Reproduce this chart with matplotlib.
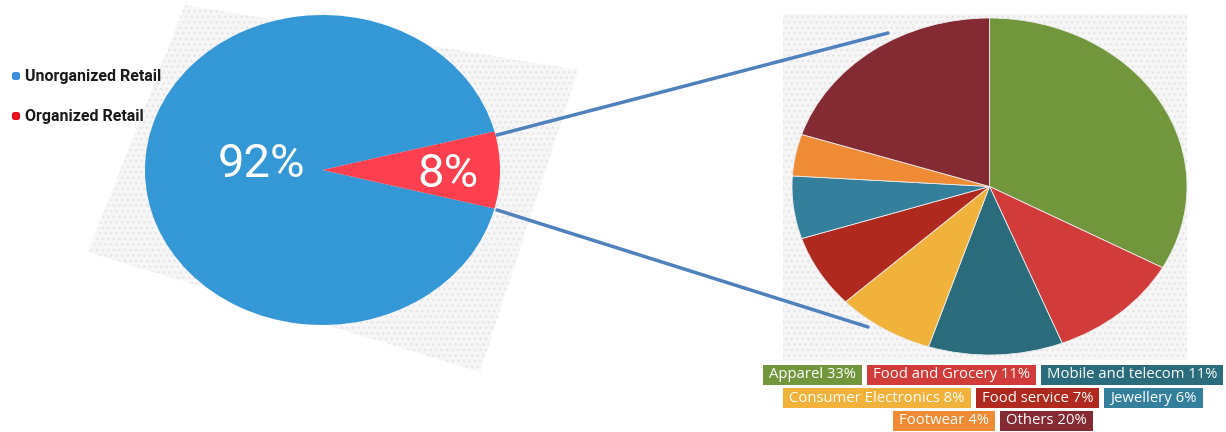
import matplotlib

matplotlib.use("Agg")
import matplotlib.pyplot as plt
from matplotlib.patches import Polygon, Rectangle, FancyBboxPatch

# left pie: share of retail
retail_labels = ["Unorganized Retail", "Organized Retail"]
retail_share = [92, 8]
retail_colors = ["#3498d6", "#fd3f4f"]
legend_colors = ["#3d8fe0", "#e8101c"]

# right pie: breakdown of organized retail
seg_labels = ["Apparel", "Food and Grocery", "Mobile and telecom",
              "Consumer Electronics", "Food service", "Jewellery",
              "Footwear", "Others"]
seg_share = [33, 11, 11, 8, 7, 6, 4, 20]
seg_colors = ["#71963c", "#d13b3a", "#2a6c7c", "#f0b23a",
              "#b0291f", "#337f9c", "#ef8b35", "#832a33"]
label_rows = [[0, 1, 2], [3, 4, 5], [6, 7]]

W, H = 1226, 432
fig = plt.figure(figsize=(W / 100, H / 100), dpi=100)


def px_axes(x0, y0, x1, y1, **kw):
    return fig.add_axes([x0 / W, 1 - y1 / H, (x1 - x0) / W, (y1 - y0) / H], **kw)


# background layer (dotted panels)
bg = px_axes(0, 0, W, H, zorder=0)
bg.set_xlim(0, W)
bg.set_ylim(H, 0)
bg.axis("off")
bg.add_patch(Polygon([(185, 5), (578, 70), (480, 372), (88, 252)], closed=True,
                     facecolor="#f6f6f6", edgecolor="#e6e6e6", hatch="...", lw=0))
bg.add_patch(Rectangle((783, 14), 404, 346, facecolor="#f6f6f6",
                       edgecolor="#e6e6e6", hatch="...", lw=0))

# left pie (elliptical), organized slice centred on the right
half = 360 * retail_share[1] / 100 / 2
ax1 = px_axes(145, 15, 500, 325, zorder=1)
ax1.pie(retail_share, colors=retail_colors, startangle=half,
        counterclock=True, wedgeprops=dict(linewidth=0))
ax1.set_aspect("auto")
ax1.set_xlim(-1, 1)
ax1.set_ylim(-1, 1)
ax1.patch.set_alpha(0)

# right pie (elliptical)
ax2 = px_axes(792, 18, 1187, 355, zorder=1)
ax2.pie(seg_share, colors=seg_colors, startangle=90, counterclock=False,
        wedgeprops=dict(linewidth=0.6, edgecolor="#eeeeee"))
ax2.set_aspect("auto")
ax2.set_xlim(-1, 1)
ax2.set_ylim(-1, 1)
ax2.patch.set_alpha(0)

# overlay layer: connectors, text
ov = px_axes(0, 0, W, H, zorder=2)
ov.set_xlim(0, W)
ov.set_ylim(H, 0)
ov.axis("off")
ov.patch.set_alpha(0)
ov.plot([497, 888], [135, 33], color="#4f81bd", lw=2.5, solid_capstyle="round")
ov.plot([497, 868], [210, 327], color="#4f81bd", lw=2.5, solid_capstyle="round")

pct_font = dict(family="Roboto", fontweight="normal", fontsize=34, color="white",
                ha="center", va="center")
ov.text(261, 164, f"{retail_share[0]}%", **pct_font)
ov.text(448, 174, f"{retail_share[1]}%", **pct_font)

# left legend
for i, (lab, col) in enumerate(zip(retail_labels, legend_colors)):
    y = 77 + i * 40
    ov.add_patch(FancyBboxPatch((12, y - 5), 8, 8, boxstyle="round,pad=0,rounding_size=2.5",
                                facecolor=col, edgecolor="none"))
    ov.text(25, y, lab, family="Roboto", fontsize=11.5, fontweight="bold",
            color="#1a1a1a", va="center", ha="left")

# category label boxes, laid out row by row and centred
fig.canvas.draw()
renderer = fig.canvas.get_renderer()
row_y = [375, 398, 421]
center_x = 993
gap = 5
pad = 6
for r, row in enumerate(label_rows):
    texts = []
    widths = []
    for i in row:
        t = ov.text(0, row_y[r], f"{seg_labels[i]} {seg_share[i]}%", family="Open Sans",
                    fontsize=10.7, color="white", ha="left", va="center", zorder=5)
        texts.append(t)
        widths.append(t.get_window_extent(renderer).width + 2 * pad)
    total = sum(widths) + gap * (len(row) - 1)
    x = center_x - total / 2
    for t, w, i in zip(texts, widths, row):
        ov.add_patch(Rectangle((x, row_y[r] - 10), w, 20, facecolor=seg_colors[i],
                               edgecolor="none", zorder=4))
        t.set_x(x + pad)
        x += w + gap

fig.savefig("out.png", dpi=100)
